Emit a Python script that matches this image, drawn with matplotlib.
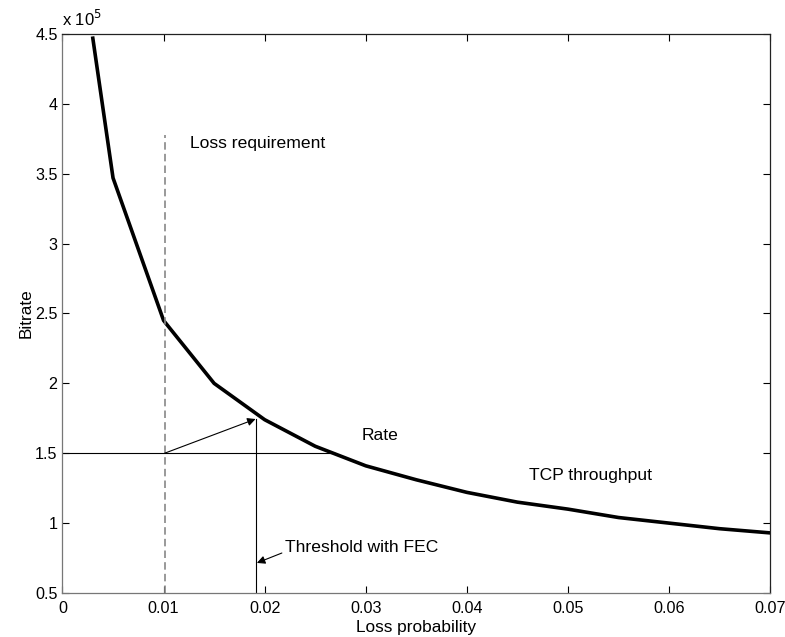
import matplotlib
matplotlib.use("Agg")
import matplotlib.pyplot as plt
from matplotlib.ticker import FuncFormatter, MultipleLocator

plt.rcParams['font.family'] = ['Liberation Sans', 'DejaVu Sans']

# TCP throughput curve (bitrate vs loss probability)
loss = [0.003, 0.005, 0.01, 0.015, 0.02, 0.025, 0.03, 0.035, 0.04, 0.045,
        0.05, 0.055, 0.06, 0.065, 0.07]
bitrate = [4.47e5, 3.47e5, 2.45e5, 2.00e5, 1.74e5, 1.55e5, 1.41e5, 1.31e5,
           1.22e5, 1.15e5, 1.10e5, 1.04e5, 1.00e5, 0.96e5, 0.93e5]

loss_requirement = 0.0101
loss_req_top = 3.78e5
rate = 1.5e5
rate_end = 0.027
threshold_fec = 0.0191
threshold_top = 1.745e5

fig = plt.figure(figsize=(7.85, 6.37), dpi=100)
ax = fig.add_axes([0.0796, 0.0691, 0.9015, 0.8775])

ax.plot(loss, bitrate, color='black', lw=2.6, solid_joinstyle='round')
ax.plot([loss_requirement, loss_requirement], [0.5e5, loss_req_top],
        color='#888888', lw=1.2, dashes=(4.5, 2.5))
ax.plot([0, rate_end], [rate, rate], color='black', lw=0.8)
ax.plot([threshold_fec, threshold_fec], [0.5e5, threshold_top], color='black', lw=0.8)
ax.annotate('', xy=(threshold_fec, threshold_top), xytext=(loss_requirement, rate),
            arrowprops=dict(arrowstyle='-|>', color='black', lw=0.8,
                            mutation_scale=12, shrinkA=0, shrinkB=0))
ax.annotate('', xy=(0.01923, 0.715e5), xytext=(0.0217, 0.786e5),
            arrowprops=dict(arrowstyle='-|>', color='black', lw=0.8,
                            mutation_scale=12, shrinkA=0, shrinkB=0))

fs = 12.6
ax.text(0.01262, 3.72e5, 'Loss requirement', fontsize=fs, va='center', ha='left')
ax.text(0.0220, 0.822e5, 'Threshold with FEC', fontsize=fs, va='center', ha='left')
ax.text(0.02955, 1.63e5, 'Rate', fontsize=fs, va='center', ha='left')
ax.text(0.0461, 1.344e5, 'TCP throughput', fontsize=fs, va='center', ha='left')

ax.set_xlim(0, 0.07)
ax.set_ylim(0.5e5, 4.5e5)
ax.xaxis.set_major_locator(MultipleLocator(0.01))
ax.yaxis.set_major_locator(MultipleLocator(0.5e5))
ax.xaxis.set_major_formatter(FuncFormatter(lambda v, p: '%g' % round(v, 4)))
ax.yaxis.set_major_formatter(FuncFormatter(lambda v, p: '%g' % round(v / 1e5, 2)))
ax.tick_params(direction='in', length=5, width=0.8, top=True, right=True,
               labelsize=11.6)
ax.tick_params(axis='x', pad=6)
ax.tick_params(axis='y', pad=3.5)

for s in ['left', 'bottom']:
    ax.spines[s].set_color('#777777')
for s in ['top', 'right']:
    ax.spines[s].set_color('#222222')
for s in ax.spines.values():
    s.set_linewidth(0.9)

ax.set_xlabel('Loss probability', fontsize=12.4)
ax.set_ylabel('Bitrate', fontsize=12.4)
ax.xaxis.set_label_coords(0.5, -0.0626)
ax.xaxis.label.set_va('center')
ax.yaxis.set_label_coords(-0.051, 0.5)
ax.yaxis.label.set_va('center')
fig.text(0.0796, 0.955, 'x 10$^{5}$', fontsize=12, ha='left', va='bottom')

fig.savefig('out.png', dpi=100)
